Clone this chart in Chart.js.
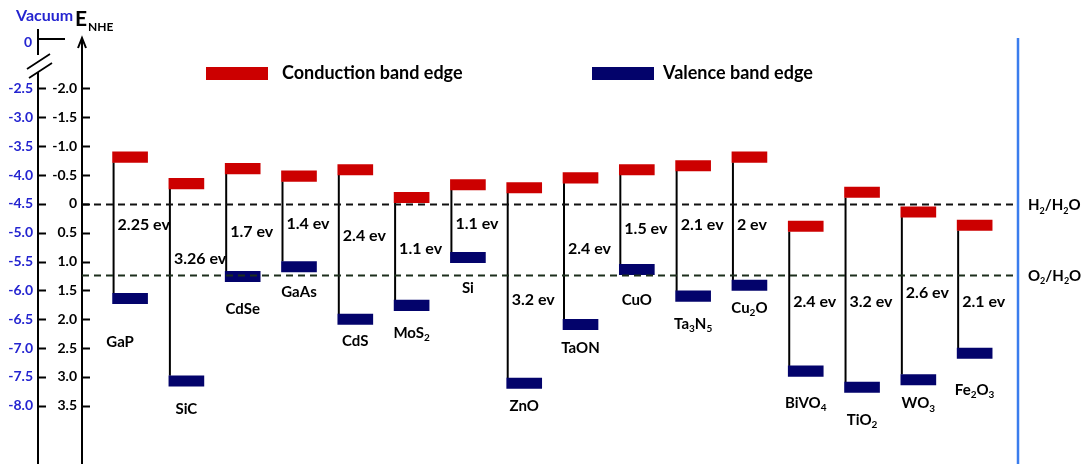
<!DOCTYPE html>
<html><head><meta charset="utf-8">
<script src="https://cdn.jsdelivr.net/npm/chart.js@4"></script>
<style>html,body{margin:0;padding:0;background:#fff}#wrap{width:1084px;height:464px;position:relative}</style>
</head><body><div id="wrap"><canvas id="c"></canvas></div>
<script>
// ---- data ----
const materials = ['GaP','SiC','CdSe','GaAs','CdS','MoS₂','Si','ZnO','TaON','CuO','Ta₃N₅','Cu₂O','BiVO₄','TiO₂','WO₃','Fe₂O₃'];
const conductionBand = [-0.72,-0.26,-0.52,-0.39,-0.50,-0.02,-0.24,-0.19,-0.36,-0.50,-0.57,-0.72,0.48,-0.11,0.23,0.46];
const valenceBand    = [1.55,2.98,1.17,1.00,1.91,1.67,0.84,3.02,2.00,1.05,1.51,1.32,2.81,3.09,2.96,2.50];
const gapLabels = ['2.25 ev','3.26 ev','1.7 ev','1.4 ev','2.4 ev','1.1 ev','1.1 ev','3.2 ev','2.4 ev','1.5 ev','2.1 ev','2 ev','2.4 ev','3.2 ev','2.6 ev','2.1 ev'];
const nheTicks = [-2.0,-1.5,-1.0,-0.5,0,0.5,1.0,1.5,2.0,2.5,3.0,3.5];
const vacuumTicks = [-2.5,-3.0,-3.5,-4.0,-4.5,-5.0,-5.5,-6.0,-6.5,-7.0,-7.5,-8.0];
const redoxLevels = [0, 1.23];
const redoxLabels = ['H₂/H₂O','O₂/H₂O'];
const VACUUM_OFFSET = -4.5;

// ---- layout annotations (label placement) ----
const gapLabelE = [0.35,0.94,0.48,0.33,0.54,0.77,0.33,1.66,0.77,0.43,0.36,0.36,1.68,1.68,1.53,1.68];
const nameDy = [38,22,27,20,16,22,25,17,18,25,22,17,26,27,18,31];
const nameDx = [-10,0,0,0,0,0,0,0,0,0,0,0,0,0,0,0];
const EDGE_H = 0.18;

const RED = '#cc0000', NAVY = '#03036b', VBLUE = '#2424d0', FONT = 'Lato';

function drawRich(ctx, text, x, y, size, color, align, subScale) {
  subScale = subScale || 0.68;
  const subMap = {'₀':'0','₁':'1','₂':'2','₃':'3','₄':'4','₅':'5','₆':'6','₇':'7','₈':'8','₉':'9'};
  const runs = [];
  for (const ch of text) {
    const sub = ch in subMap;
    const c = sub ? subMap[ch] : ch;
    if (runs.length && runs[runs.length-1].sub === sub) runs[runs.length-1].t += c;
    else runs.push({t:c, sub});
  }
  const fN = 'bold ' + size + 'px ' + FONT, fS = 'bold ' + Math.round(size*subScale) + 'px ' + FONT;
  let w = 0;
  runs.forEach(r => { ctx.font = r.sub ? fS : fN; r.w = ctx.measureText(r.t).width; w += r.w; });
  let cx = align === 'center' ? x - w/2 : (align === 'right' ? x - w : x);
  const base = y + size*0.36;
  ctx.fillStyle = color; ctx.textAlign = 'left'; ctx.textBaseline = 'alphabetic';
  runs.forEach(r => { ctx.font = r.sub ? fS : fN; ctx.fillText(r.t, cx, r.sub ? base + size*0.22 : base); cx += r.w; });
}

const deco = {
  id: 'deco',
  beforeDatasetsDraw(chart) {
    const ctx = chart.ctx, y = chart.scales.y;
    const cbMeta = chart.getDatasetMeta(0);
    ctx.save();
    ctx.strokeStyle = '#000'; ctx.lineWidth = 2;
    cbMeta.data.forEach((el, i) => {
      const x = el.x - el.width/2 + 1;
      ctx.beginPath();
      ctx.moveTo(x, y.getPixelForValue(conductionBand[i]));
      ctx.lineTo(x, y.getPixelForValue(valenceBand[i]));
      ctx.stroke();
    });
    ctx.restore();
  },
  afterDatasetsDraw(chart) {
    const ctx = chart.ctx, ca = chart.chartArea, y = chart.scales.y, yv = chart.scales.yv;
    const cbMeta = chart.getDatasetMeta(0), vbMeta = chart.getDatasetMeta(1);
    ctx.save();
    // redox dashed lines
    ctx.lineWidth = 2; ctx.setLineDash([7,5]);
    redoxLevels.forEach((v, k) => {
      const py = Math.round(y.getPixelForValue(v)) + 0.5;
      ctx.strokeStyle = k === 0 ? '#111' : '#1c2e1c';
      ctx.beginPath(); ctx.moveTo(ca.left, py); ctx.lineTo(ca.right, py); ctx.stroke();
    });
    ctx.setLineDash([]);
    redoxLabels.forEach((t, k) => drawRich(ctx, t, ca.right + 10, y.getPixelForValue(redoxLevels[k]) + 1, 15, '#000', 'left', 0.62));
    // right blue line
    ctx.strokeStyle = '#3b7ded'; ctx.lineWidth = 2.5;
    ctx.beginPath(); ctx.moveTo(ca.right, ca.top - 2); ctx.lineTo(ca.right, chart.height); ctx.stroke();
    // gap labels & names
    cbMeta.data.forEach((el, i) => {
      drawRich(ctx, gapLabels[i], el.x - el.width/2 + 5, y.getPixelForValue(gapLabelE[i]), 16, '#000', 'left');
      const vb = vbMeta.data[i];
      const bottom = Math.max(vb.y, vb.base);
      drawRich(ctx, materials[i], vb.x + nameDx[i], bottom + nameDy[i], 15, '#000', 'center');
    });
    // NHE axis tick marks + arrow
    ctx.strokeStyle = '#000'; ctx.lineWidth = 2;
    y.ticks.forEach(t => {
      const py = Math.round(y.getPixelForValue(t.value)) + 0.5;
      ctx.beginPath(); ctx.moveTo(ca.left, py); ctx.lineTo(ca.left + 8, py); ctx.stroke();
    });
    ctx.beginPath(); ctx.moveTo(ca.left, ca.top); ctx.lineTo(ca.left, ca.top - 2); ctx.stroke();
    ctx.beginPath(); ctx.moveTo(ca.left - 4, ca.top + 8); ctx.lineTo(ca.left, ca.top - 2); ctx.lineTo(ca.left + 4, ca.top + 8); ctx.stroke();
    // vacuum axis with break
    const vx = yv.right;
    ctx.beginPath();
    ctx.moveTo(vx, 29); ctx.lineTo(vx, 55);
    ctx.moveTo(vx, 72); ctx.lineTo(vx, chart.height);
    ctx.moveTo(vx, 39); ctx.lineTo(vx + 27, 39);
    ctx.stroke();
    ctx.lineWidth = 1.8;
    ctx.beginPath();
    ctx.moveTo(27, 69); ctx.lineTo(50, 54);
    ctx.moveTo(29, 78); ctx.lineTo(52, 63);
    ctx.stroke();
    ctx.lineWidth = 2;
    yv.ticks.forEach(t => {
      const py = Math.round(yv.getPixelForValue(t.value)) + 0.5;
      ctx.beginPath(); ctx.moveTo(vx, py); ctx.lineTo(vx + 8, py); ctx.stroke();
    });
    ctx.font = 'bold 14px ' + FONT; ctx.fillStyle = VBLUE; ctx.textAlign = 'right'; ctx.textBaseline = 'middle';
    ctx.fillText('0', vx - 6, 42);
    // titles
    drawRich(ctx, 'Vacuum', 16, 15, 16, VBLUE, 'left');
    ctx.font = 'bold 21px ' + FONT; ctx.fillStyle = '#000'; ctx.textAlign = 'left'; ctx.textBaseline = 'alphabetic';
    ctx.fillText('E', 75, 26);
    ctx.font = 'bold 12px ' + FONT;
    ctx.fillText('NHE', 88, 31);
    // legend
    const items = [{x: 206, tx: 282}, {x: 592, tx: 663}];
    chart.data.datasets.slice(0, 2).forEach((ds, k) => {
      ctx.fillStyle = ds.backgroundColor;
      ctx.fillRect(items[k].x, 67, 62, 13);
      drawRich(ctx, ds.label, items[k].tx, 73, 18, '#000', 'left');
    });
    ctx.restore();
  }
};

const cbData = conductionBand.map((v, i) => ({x: i, y: [v - EDGE_H, v]}));
const vbData = valenceBand.map((v, i) => ({x: i, y: [v, v + EDGE_H]}));
const yMin = -2.84, yMax = 4.51;
const noPad = s => { s.paddingTop = 0; s.paddingBottom = 0; };

new Chart(document.getElementById('c'), {
  type: 'bar',
  data: {
    datasets: [
      {label: 'Conduction band edge', data: cbData, backgroundColor: RED, barThickness: 35, grouped: false, yAxisID: 'y', xAxisID: 'x'},
      {label: 'Valence band edge', data: vbData, backgroundColor: NAVY, barThickness: 35, grouped: false, yAxisID: 'y', xAxisID: 'x'}
    ]
  },
  options: {
    responsive: true, maintainAspectRatio: false, animation: false,
    layout: {padding: {top: 40, right: 66, bottom: 0, left: 0}},
    plugins: {legend: {display: false}, tooltip: {enabled: false}},
    scales: {
      x: {type: 'linear', min: -0.854, max: 15.77, offset: false, display: false},
      yv: {
        type: 'linear', position: 'left', weight: 10,
        min: VACUUM_OFFSET - yMax, max: VACUUM_OFFSET - yMin,
        grid: {display: false, drawTicks: false}, border: {display: false},
        afterBuildTicks: s => { s.ticks = vacuumTicks.map(v => ({value: v})); },
        afterFit: s => { s.width = 38; noPad(s); },
        ticks: {padding: 5, color: VBLUE, font: {family: FONT, weight: 'bold', size: 14}, callback: v => v.toFixed(1)}
      },
      y: {
        type: 'linear', position: 'left', reverse: true, weight: 0,
        min: yMin, max: yMax,
        grid: {display: false, drawTicks: false}, border: {display: true, color: '#000', width: 2},
        afterBuildTicks: s => { s.ticks = nheTicks.map(v => ({value: v})); },
        afterFit: s => { s.width = 44; noPad(s); },
        ticks: {padding: 5, color: '#000', font: {family: FONT, weight: 'bold', size: 14}, callback: v => v === 0 ? '0' : v.toFixed(1)}
      }
    }
  },
  plugins: [deco]
});
</script></body></html>
